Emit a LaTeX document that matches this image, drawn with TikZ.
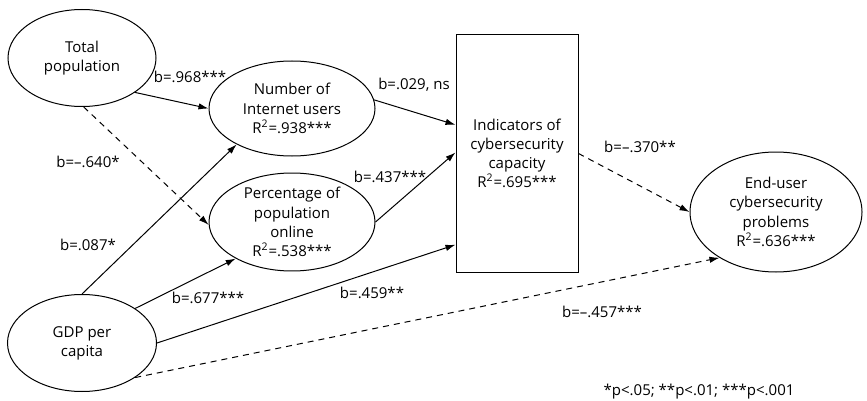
\documentclass[tikz,border=0pt]{standalone}
\usepackage{fontspec}
\setmainfont{Open Sans}
\usetikzlibrary{arrows.meta,positioning,calc,shapes.geometric}

\begin{document}
\begin{tikzpicture}[x=0.5pt,y=-0.5pt,
    font=\fontsize{7.5}{9.6}\selectfont,
    varell/.style={draw,ellipse,line width=0.5pt,inner sep=0pt,align=center},
    capbox/.style={draw,rectangle,line width=0.5pt,inner sep=0pt,align=center},
    arr/.style={line width=0.5pt,-{Latex[length=5pt,width=3.2pt]}},
    darr/.style={arr,dash pattern=on 3pt off 2.5pt},
    coef/.style={inner sep=0pt}]
  \useasboundingbox (0,0) rectangle (867,401); % 全体の大きさ
  \node[varell,minimum width=74pt,minimum height=48.5pt] (tot) at (82,58) {Total\\population}; % 総人口
  \node[varell,minimum width=74.5pt,minimum height=48.5pt] (gdp) at (82,343) {GDP per\\capita}; % 一人当たりGDP
  \node[varell,minimum width=83pt,minimum height=47.5pt] (num) at (292,108.5) {Number of\\Internet users\\R\textsuperscript{2}=.938***}; % 利用者数
  \node[varell,minimum width=83pt,minimum height=48pt] (pct) at (292,222) {Percentage of\\population\\online\\R\textsuperscript{2}=.538***}; % 利用率
  \node[capbox,minimum width=61pt,minimum height=118.5pt] (cap) at (517,153.5) {Indicators of\\cybersecurity\\capacity\\R\textsuperscript{2}=.695***}; % 能力の指標
  \node[varell,minimum width=86pt,minimum height=60pt] (eu) at (776,212) {End-user\\cybersecurity\\problems\\R\textsuperscript{2}=.636***}; % 利用者側の問題
  \draw[arr] (tot.-33) -- (num.west); % 総人口から利用者数へ
  \draw[darr] (tot.-88) -- (pct.-178); % 総人口から利用率へ（有意でない側）
  \draw[arr] (gdp.north) -- (num.-147); % GDPから利用者数へ
  \draw[arr] (gdp.33) -- (pct.-147); % GDPから利用率へ
  \draw[arr] (gdp.east) -- (cap.236); % GDPから指標へ
  \draw[darr] (gdp.-33) -- (eu.-141); % GDPから問題へ
  \draw[arr] (num.6) -- (cap.155); % 利用者数から指標へ
  \draw[arr] (pct.east) -- (cap.179); % 利用率から指標へ
  \draw[darr] (cap.east) -- (eu.west); % 指標から問題へ
  \node[coef] (c968) at (190,77) {b=.968***}; % 係数
  \node[coef] (c640) at (88,162) {b=–.640*};
  \node[coef] (c087) at (88,245) {b=.087*};
  \node[coef] (c677) at (208,298) {b=.677***};
  \node[coef] (c459) at (372,293) {b=.459**};
  \node[coef] (c029) at (414,85) {b=.029, ns};
  \node[coef] (c437) at (390,177) {b=.437***};
  \node[coef] (c370) at (640,147) {b=–.370**};
  \node[coef] (c457) at (602,312) {b=–.457***};
  \node[coef] (note) at (699,392) {*p<.05; **p<.01; ***p<.001}; % 有意水準の注
\end{tikzpicture}
\end{document}
